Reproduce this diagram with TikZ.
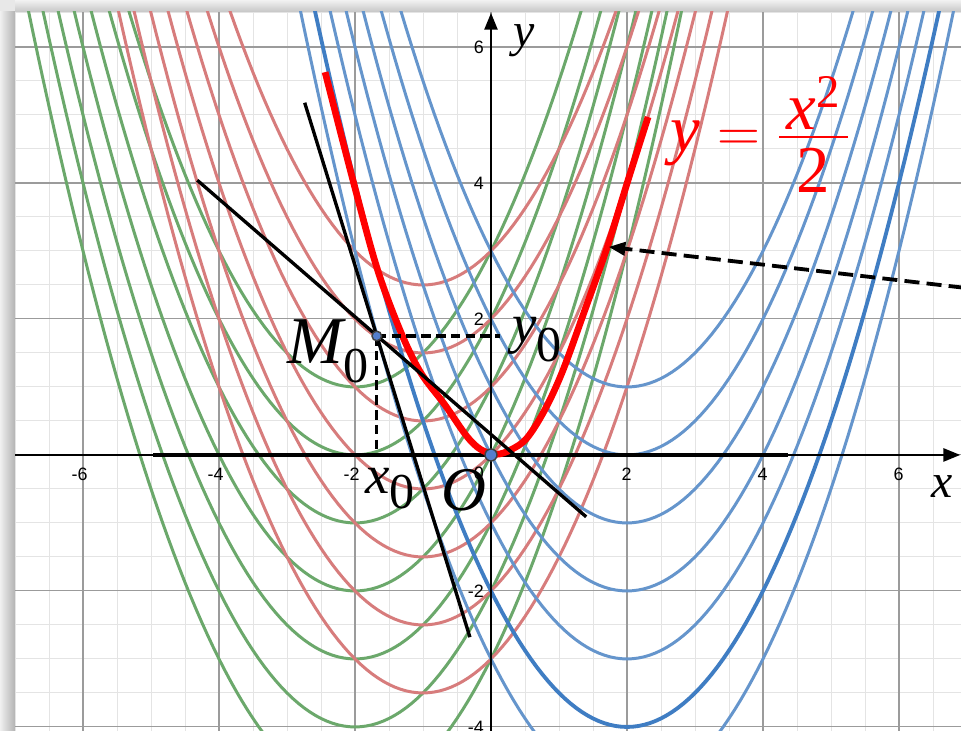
\documentclass[tikz,border=0pt]{standalone}
\usepackage{amsmath}
\usepackage{fontspec}
\setmainfont{Liberation Serif}
\newfontfamily\ticksans{Liberation Sans}
\usetikzlibrary{arrows.meta}
\definecolor{solgreen}{RGB}{107,168,107}
\definecolor{solred}{RGB}{215,124,124}
\definecolor{solblue}{RGB}{101,149,204}
\definecolor{soldarkblue}{RGB}{63,125,195}
\definecolor{gridmajor}{RGB}{155,155,155}
\definecolor{gridminor}{RGB}{228,228,228}
\definecolor{dotblue}{RGB}{84,126,204}
\newcommand{\zerosub}[1]{\raisebox{#1}{\fontsize{21}{21}\selectfont\upshape 0}}

\begin{document}
\begin{tikzpicture}[x=1cm,y=1cm,
  family/.style={line width=1.25pt},
  tangent/.style={line width=1.4pt,color=black},
  guide/.style={line width=1.4pt,dash pattern=on 4pt off 2.2pt},
  ticklbl/.style={font=\ticksans\fontsize{7.5}{9}\selectfont,inner sep=0pt},
  lbl/.style={inner sep=0pt,anchor=base west},
  ptmark/.style={circle,draw=black!75,fill=dotblue,line width=0.6pt,
    inner sep=0pt,minimum size=#1}]
\useasboundingbox (-7.221,-4.059) rectangle (6.912,6.691);
\fill[gray!18] (-7.221,-4.059) rectangle (6.912,6.691);
\shade[left color=gray!12,right color=gray!60] (-7.221,-4.059) rectangle (-7,6.515);
\shade[top color=gray!10,bottom color=gray!45] (-7,6.515) rectangle (6.912,6.691);
\fill[white] (-7,-4.059) rectangle (6.912,6.515);
\draw[gridminor,line width=0.4pt,step=0.5] (-7,-4.059) grid (6.912,6.515);
\draw[gridmajor,line width=0.45pt,step=2] (-7,-4.059) grid (6.912,6.515);
\begin{scope}
\clip (-7,-4.059) rectangle (6.912,6.515);
\foreach \k in {-5,...,1}
  \draw[family,solgreen] plot[domain=-7:3,samples=121] (\x,{(\x+2)^2/2+\k});
\foreach \k in {-3.5,-2.5,...,2.5}
  \draw[family,solred] plot[domain=-6:4,samples=121] (\x,{(\x+1)^2/2+\k});
\foreach \k in {-5,-3,-2,-1,0,1}
  \draw[family,solblue] plot[domain=-3:7,samples=121] (\x,{(\x-2)^2/2+\k});
\draw[family,soldarkblue,line width=1.6pt] plot[domain=-3:7,samples=121] (\x,{(\x-2)^2/2-4});
\end{scope}
\coordinate (xstart) at (-7,0);
\coordinate (xend) at (6.90,0);
\coordinate (ystart) at (0,-4.059);
\coordinate (yend) at (0,6.50);
\draw[line width=0.85pt,-{Triangle[length=7pt,width=5.5pt]}] (xstart) -- (xend);
\draw[line width=0.85pt,-{Triangle[length=7pt,width=5.5pt]}] (ystart) -- (yend);
\foreach \t [count=\i] in {-6,-4,-2,2,4,6}
  \node[ticklbl,anchor=base east] (xtick\i) at (\t+0.075,-0.38) {\t};
\foreach \t [count=\i] in {-4,-2,2,4,6}
  \node[ticklbl,anchor=east] (ytick\i) at (-0.1,\t) {\t};
\node[ticklbl,anchor=base east] (tick0) at (-0.1,-0.36) {0};
\coordinate (T1) at (-4.97,0);
\coordinate (T2) at (4.37,0);
\draw[tangent,line width=1.6pt] (T1) -- (T2);
\draw[red,line width=2.8pt] plot[smooth,tension=0.55] coordinates {(-2.44,5.63)
  (-2.03,4.04) (-1.68,2.76) (-1.34,1.84) (-1.04,1.22) (-0.68,0.74) (-0.36,0.28)
  (-0.15,0.08) (0.08,0.01) (0.3,0.08) (0.53,0.25) (0.8,0.68) (1.06,1.25)
  (1.38,2.13) (1.71,3.06) (2.04,4.12) (2.31,4.97)};
\coordinate (M0) at (-1.68,1.75);
\coordinate (A1) at (-4.32,4.04);
\coordinate (A2) at (1.40,-0.91);
\coordinate (B1) at (-2.74,5.18);
\coordinate (B2) at (-0.31,-2.68);
\draw[tangent] (A1) -- (A2);
\draw[tangent] (B1) -- (B2);
\coordinate (Hend) at (0.13,1.75);
\coordinate (Vend) at (-1.68,0);
\draw[guide] (M0) -- (Hend);
\draw[guide] (M0) -- (Vend);
\coordinate (ArrTail) at (6.95,2.46);
\coordinate (ArrTip) at (1.73,3.06);
\draw[guide,line width=1.6pt,dash pattern=on 6.3pt off 3pt,
  -{Triangle[length=7pt,width=5.5pt]}] (ArrTail) -- (ArrTip);
\node[ptmark=4pt] (m0dot) at (M0) {};
\node[ptmark=5pt] (odot) at (0,0) {};
\node[lbl] (lblM) at (-3.0,1.35) {\fontsize{28}{28}\selectfont\itshape M\zerosub{-8pt}};
\node[lbl] (lblxo) at (-1.86,-0.56) {\fontsize{23}{23}\selectfont\itshape x\zerosub{-6.3pt}};
\node[lbl] (lblyo) at (0.31,1.66) {\fontsize{23}{23}\selectfont\itshape y\zerosub{-8pt}};
\node[lbl] (lblO) at (-0.74,-0.81) {\fontsize{26}{26}\selectfont\itshape O};
\node[lbl] (lbly) at (0.33,6.01) {\fontsize{20}{20}\selectfont\itshape y};
\node[lbl] (lblx) at (6.47,-0.63) {\fontsize{20}{20}\selectfont\itshape x};
\node[lbl,red] (lblcurve) at (2.64,4.46)
  {\fontsize{28}{30}\selectfont$\displaystyle\textit{y}=\frac{\hspace{3pt}\smash{\raisebox{-7.5pt}{\textit{x}$^{\textup{2}}$}}\hspace{3pt}}{\textup{2}}$};
\end{tikzpicture}
\end{document}
